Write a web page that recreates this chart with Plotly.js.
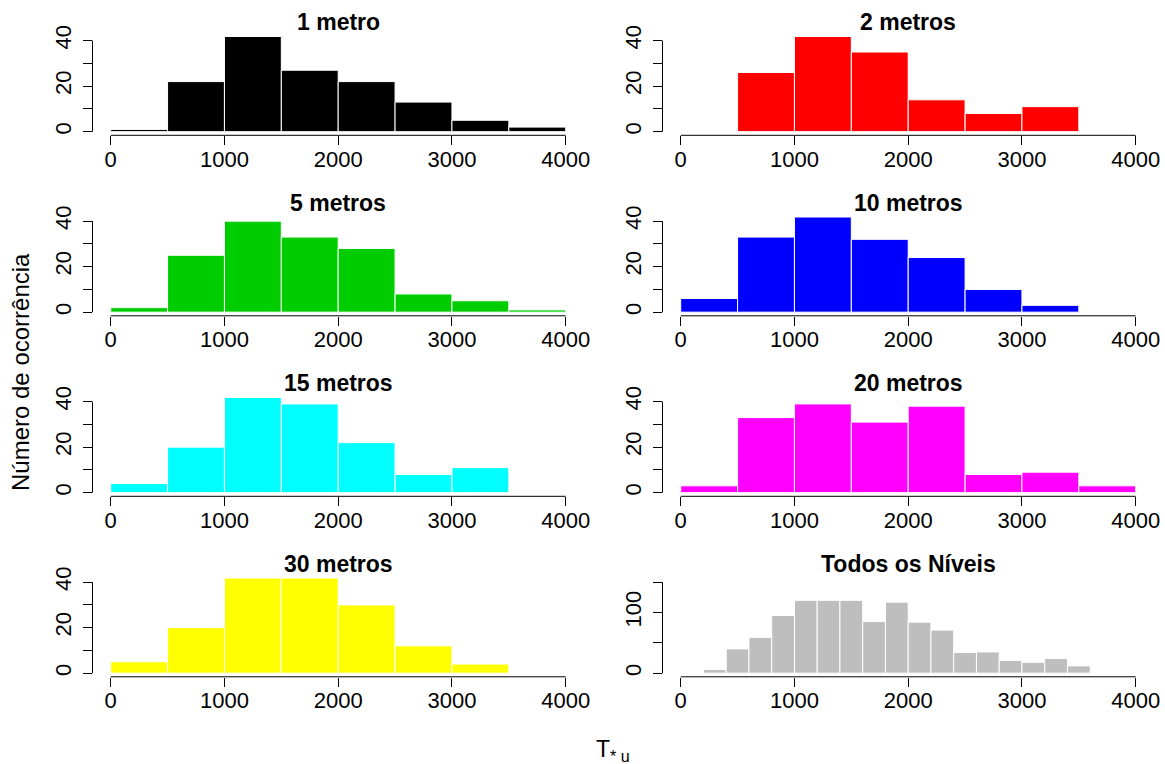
<!DOCTYPE html>
<html>
<head>
<meta charset="utf-8">
<script src="https://cdn.plot.ly/plotly-3.0.1.min.js"></script>
<style>html,body{margin:0;padding:0;background:#fff;}</style>
</head>
<body>
<div id="chart" style="width:1165px;height:764px;"></div>
<script>
// Bin edges (500-wide for each level, 200-wide for the pooled histogram)
const edges500 = [0, 500, 1000, 1500, 2000, 2500, 3000, 3500, 4000];
const edges200 = [0, 200, 400, 600, 800, 1000, 1200, 1400, 1600, 1800, 2000,
                  2200, 2400, 2600, 2800, 3000, 3200, 3400, 3600, 3800, 4000];

// Counts per bin for each measurement height
const count1m  = [1, 22, 42, 27, 22, 13, 5, 2];
const count2m  = [0, 26, 42, 35, 14, 8, 11, 0];
const count5m  = [2, 25, 40, 33, 28, 8, 5, 1];
const count10m = [6, 33, 42, 32, 24, 10, 3, 0];
const count15m = [4, 20, 42, 39, 22, 8, 11, 0];
const count20m = [3, 33, 39, 31, 38, 8, 9, 3];
const count30m = [5, 20, 42, 42, 30, 12, 4, 0];
const countAll = [0, 6, 40, 59, 95, 120, 120, 120, 85, 117, 84, 71, 34, 35, 21, 18, 24, 12, 0, 0];

const panelTitles = ['1 metro', '2 metros', '5 metros', '10 metros',
                     '15 metros', '20 metros', '30 metros', 'Todos os Níveis'];

// Tick marks (labelled ticks and unlabelled in-between ticks)
const xTickVals = [0, 1000, 2000, 3000, 4000];
const yTickVals40 = [0, 20, 40];
const yMinorVals40 = [10, 30];
const yTickVals150 = [0, 100];
const yMinorVals150 = [50, 150];

const xLabel = 'T<sub>*\u00a0u</sub>';
const yLabel = 'Número de ocorrência';

// ---- styling / geometry ----
const W = 1165, H = 764;
const FONT = 'Liberation Sans, Arial, Helvetica, sans-serif';
const TICK_SIZE = 22;
const fillColors = ['#000000', '#FF0000', '#00CD00', '#0000FF',
                    '#00FFFF', '#FF00FF', '#FFFF00', '#BEBEBE'];
const plotW = 491.4, plotH = 98.3;
const colLeft = [92.5, 662.5];
const rowTop = [37, 217.5, 398, 578.5];

const panels = [
  {edges: edges500, counts: count1m,  ticks: yTickVals40,  minor: yMinorVals40},
  {edges: edges500, counts: count2m,  ticks: yTickVals40,  minor: yMinorVals40},
  {edges: edges500, counts: count5m,  ticks: yTickVals40,  minor: yMinorVals40},
  {edges: edges500, counts: count10m, ticks: yTickVals40,  minor: yMinorVals40},
  {edges: edges500, counts: count15m, ticks: yTickVals40,  minor: yMinorVals40},
  {edges: edges500, counts: count20m, ticks: yTickVals40,  minor: yMinorVals40},
  {edges: edges500, counts: count30m, ticks: yTickVals40,  minor: yMinorVals40},
  {edges: edges200, counts: countAll, ticks: yTickVals150, minor: yMinorVals150}
];

const traces = [];
const layout = {
  width: W, height: H,
  margin: {l: 0, r: 0, t: 0, b: 0},
  paper_bgcolor: '#ffffff', plot_bgcolor: '#ffffff',
  showlegend: false,
  font: {family: FONT, color: '#000', size: TICK_SIZE},
  shapes: [], annotations: []
};

panels.forEach((p, i) => {
  const row = Math.floor(i / 2), col = i % 2;
  const sfx = i === 0 ? '' : String(i + 1);
  const xa = 'x' + sfx, ya = 'y' + sfx;
  const left = colLeft[col], top = rowTop[row];

  const centers = p.counts.map((_, k) => (p.edges[k] + p.edges[k + 1]) / 2);
  const widths = p.counts.map((_, k) => p.edges[k + 1] - p.edges[k]);

  traces.push({
    type: 'bar', x: centers, y: p.counts, width: widths,
    xaxis: xa, yaxis: ya,
    marker: {color: fillColors[i], line: {color: '#ffffff', width: 1}},
    hoverinfo: 'skip'
  });

  const xMin = xTickVals[0], xMax = xTickVals[xTickVals.length - 1];
  const xPad = 0.04 * (xMax - xMin);
  const allY = p.ticks.concat(p.minor);
  const yLo = Math.min(...allY), yHi = Math.max(...allY);
  const yPad = 0.04 * yHi;

  layout['xaxis' + sfx] = {
    domain: [left / W, (left + plotW) / W],
    anchor: ya, range: [xMin - xPad, xMax + xPad],
    tickmode: 'array', tickvals: xTickVals,
    ticks: 'outside', ticklen: 9, tickwidth: 1, tickcolor: '#000',
    ticklabelstandoff: -5,
    showline: false, showgrid: false, zeroline: false, fixedrange: true,
    tickfont: {family: FONT, size: TICK_SIZE, color: '#000'}
  };
  layout['yaxis' + sfx] = {
    domain: [1 - (top + plotH) / H, 1 - top / H],
    anchor: xa, range: [-yPad, yHi + yPad],
    tickmode: 'array', tickvals: p.ticks, tickangle: -90,
    ticks: 'outside', ticklen: 9, tickwidth: 1, tickcolor: '#000',
    ticklabelstandoff: 3,
    minor: {tickmode: 'array', tickvals: p.minor, ticks: 'outside',
            ticklen: 9, tickwidth: 1, tickcolor: '#000', showgrid: false},
    showline: false, showgrid: false, zeroline: false, fixedrange: true,
    tickfont: {family: FONT, size: TICK_SIZE, color: '#000'}
  };

  // axis lines spanning only the tick range
  layout.shapes.push({
    type: 'line', xref: xa, yref: ya + ' domain',
    x0: xMin, x1: xMax, y0: 0, y1: 0,
    line: {color: '#000', width: 1}
  });
  layout.shapes.push({
    type: 'line', xref: xa + ' domain', yref: ya,
    x0: 0, x1: 0, y0: yLo, y1: yHi,
    line: {color: '#000', width: 1}
  });

  layout.annotations.push({
    text: '<b>' + panelTitles[i] + '</b>',
    xref: 'paper', yref: 'paper',
    x: (left + plotW / 2) / W, y: 1 - (top - 14.5) / H,
    xanchor: 'center', yanchor: 'middle', showarrow: false,
    font: {family: FONT, size: 23, color: '#000'}
  });
});

layout.annotations.push({
  text: xLabel, xref: 'paper', yref: 'paper',
  x: 594 / W, y: 1 - 750 / H, xanchor: 'left', yanchor: 'middle',
  showarrow: false, font: {family: FONT, size: 23, color: '#000'}
});
layout.annotations.push({
  text: yLabel, xref: 'paper', yref: 'paper', textangle: -90,
  x: 20 / W, y: 1 - 372 / H, xanchor: 'center', yanchor: 'middle',
  showarrow: false, font: {family: FONT, size: 24, color: '#000'}
});

Plotly.newPlot('chart', traces, layout, {displayModeBar: false, staticPlot: true});
</script>
</body>
</html>
